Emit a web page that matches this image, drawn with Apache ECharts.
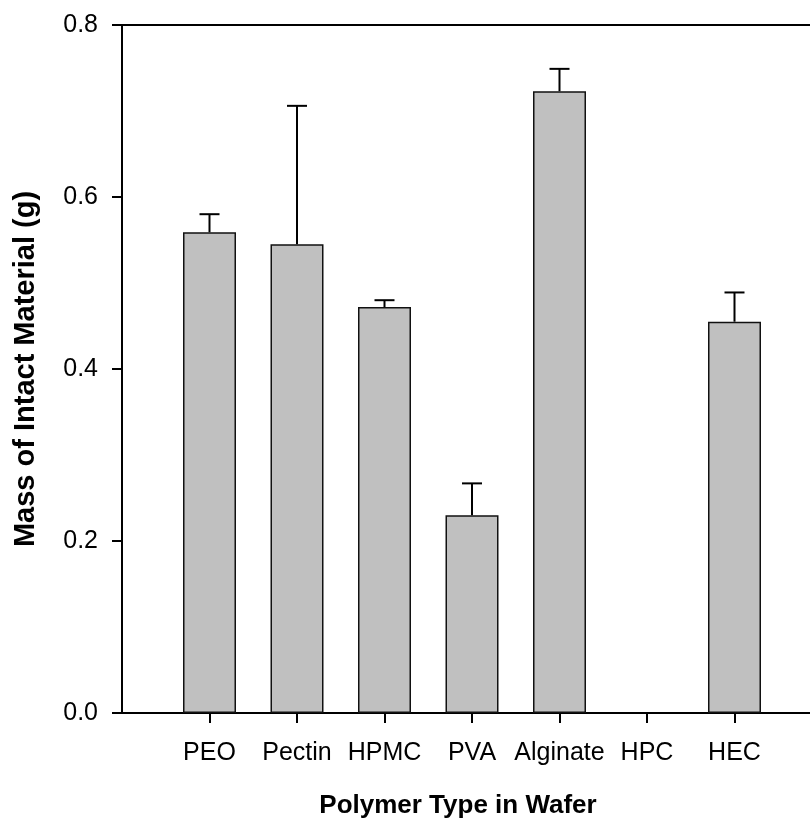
<!DOCTYPE html>
<html>
<head>
<meta charset="utf-8">
<script src="https://cdn.jsdelivr.net/npm/echarts@6/dist/echarts.min.js"></script>
<style>
html,body{margin:0;padding:0;background:#fff;}
#chart{width:810px;height:823px;}
</style>
</head>
<body>
<div id="chart"></div>
<script>
var categories = ['PEO', 'Pectin', 'HPMC', 'PVA', 'Alginate', 'HPC', 'HEC'];
var means = [0.559, 0.545, 0.472, 0.230, 0.723, null, 0.455];
var errors = [0.021, 0.161, 0.008, 0.037, 0.026, null, 0.034];
var yTicks = [0.0, 0.2, 0.4, 0.6, 0.8];

var FONT = 'Arial, "Liberation Sans", sans-serif';

// pad categories so the axis runs from 0 to 8 with bars at 1..7
var axisCats = [''].concat(categories).concat(['']);
var barData = [null].concat(means).concat([null]);
var errData = [];
for (var i = 0; i < categories.length; i++) {
  if (means[i] != null) errData.push([i + 1, means[i], means[i] + errors[i]]);
}

var chart = echarts.init(document.getElementById('chart'), null, {renderer: 'canvas'});
chart.setOption({
  animation: false,
  backgroundColor: '#ffffff',
  grid: {left: 122, top: 25, width: 700, height: 688, containLabel: false, outerBoundsMode: 'none'},
  xAxis: [{
    type: 'category',
    data: axisCats,
    boundaryGap: false,
    position: 'bottom',
    axisLine: {show: true, lineStyle: {color: '#000', width: 2}},
    axisTick: {show: true, length: 10, lineStyle: {color: '#000', width: 2},
      interval: function (idx, val) { return val !== ''; }},
    axisLabel: {show: true, color: '#000', fontSize: 25, fontFamily: FONT, margin: 28,
      interval: 0},
    splitLine: {show: false},
    name: 'Polymer Type in Wafer',
    nameLocation: 'middle',
    nameGap: 80,
    nameTextStyle: {color: '#000', fontSize: 26, fontWeight: 'bold', fontFamily: FONT,
      padding: [0, 28, 0, 0]}
  }, {
    type: 'category',
    data: axisCats,
    boundaryGap: false,
    position: 'top',
    axisLine: {show: true, lineStyle: {color: '#000', width: 2}},
    axisTick: {show: false},
    axisLabel: {show: false},
    splitLine: {show: false}
  }],
  yAxis: {
    type: 'value',
    min: 0,
    max: 0.8,
    interval: 0.2,
    axisLine: {show: true, lineStyle: {color: '#000', width: 2}},
    axisTick: {show: true, length: 10, lineStyle: {color: '#000', width: 2}},
    axisLabel: {color: '#000', fontSize: 25, fontFamily: FONT, margin: 24,
      formatter: function (v) { return v.toFixed(1); }},
    splitLine: {show: false},
    name: 'Mass of Intact Material (g)',
    nameLocation: 'middle',
    nameRotate: 90,
    nameGap: 82,
    nameTextStyle: {color: '#000', fontSize: 29, fontWeight: 'bold', fontFamily: FONT}
  },
  series: [{
    type: 'bar',
    data: barData,
    barWidth: 53,
    itemStyle: {color: '#c0c0c0', borderColor: '#111', borderWidth: 1.5},
    z: 2
  }, {
    type: 'custom',
    data: errData,
    encode: {x: 0, y: [1, 2]},
    renderItem: function (params, api) {
      var x = api.value(0);
      var p0 = api.coord([x, api.value(1)]);
      var p1 = api.coord([x, api.value(2)]);
      var half = 10;
      return {
        type: 'group',
        children: [{
          type: 'line',
          shape: {x1: p0[0], y1: p0[1], x2: p1[0], y2: p1[1]},
          style: {stroke: '#000', lineWidth: 2}
        }, {
          type: 'line',
          shape: {x1: p1[0] - half, y1: p1[1], x2: p1[0] + half, y2: p1[1]},
          style: {stroke: '#000', lineWidth: 2}
        }]
      };
    },
    z: 3
  }]
});
</script>
</body>
</html>
